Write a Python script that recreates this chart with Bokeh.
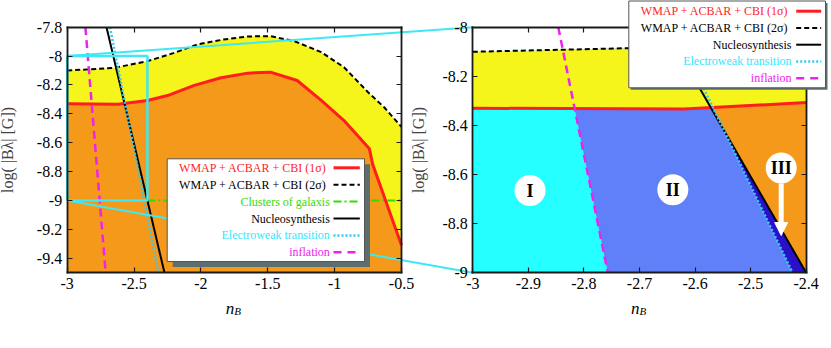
import numpy as np
from bokeh.plotting import figure
from bokeh.models import Range1d, LinearAxis, FixedTicker, Arrow, NormalHead, ColumnDataSource
from bokeh.core.properties import value
from bokeh.embed import file_html
from bokeh.resources import INLINE

# ---------------- data ----------------
sigma1_n = [-3.0, -2.62, -2.4, -2.25, -2.05, -1.85, -1.65, -1.48, -1.28, -1.1, -0.93, -0.74, -0.715, -0.5]
sigma1_logB = [-8.33, -8.333, -8.307, -8.273, -8.203, -8.15, -8.118, -8.111, -8.169, -8.307, -8.446, -8.642, -8.75, -9.31]
sigma2_n = [-3.0, -2.65, -2.4, -2.2, -2.03, -1.83, -1.65, -1.48, -1.3, -1.1, -0.93, -0.75, -0.63, -0.5]
sigma2_logB = [-8.10, -8.082, -8.035, -7.978, -7.92, -7.885, -7.864, -7.862, -7.897, -7.973, -8.077, -8.25, -8.354, -8.49]
nucleo_n = [-2.706, -2.2725]
nucleo_logB = [-7.8, -9.5]
ew_n = [-2.68, -2.318]
ew_logB = [-7.8, -9.5]
infl_n = [-2.864, -2.7125]
infl_logB = [-7.8, -9.5]
clusters_n = [-3.0, -0.5]
clusters_logB = [-9.0, -9.0]

left_xlim = [-3.0, -0.5]
left_ylim = [-9.5, -7.8]
right_xlim = [-3.0, -2.4]
right_ylim = [-9.0, -8.0]

left_xticks = [-3.0, -2.5, -2.0, -1.5, -1.0, -0.5]
left_xlabels = ["-3", "-2.5", "-2", "-1.5", "-1", "-0.5"]
left_yticks = [-7.8, -8.0, -8.2, -8.4, -8.6, -8.8, -9.0, -9.2, -9.4]
left_ylabels = ["-7.8", "-8", "-8.2", "-8.4", "-8.6", "-8.8", "-9", "-9.2", "-9.4"]
right_xticks = [-3.0, -2.9, -2.8, -2.7, -2.6, -2.5, -2.4]
right_xlabels = ["-3", "-2.9", "-2.8", "-2.7", "-2.6", "-2.5", "-2.4"]
right_yticks = [-8.0, -8.2, -8.4, -8.6, -8.8, -9.0]
right_ylabels = ["-8", "-8.2", "-8.4", "-8.6", "-8.8", "-9"]

region_names = ["I", "II", "III"]
region_n = [-2.897, -2.64, -2.445]
region_logB = [-8.665, -8.662, -8.573]
arrow_tip_logB = -8.848

legend_labels = ["WMAP + ACBAR + CBI  (1σ)", "WMAP + ACBAR + CBI  (2σ)", "Clusters of galaxis",
                 "Nucleosynthesis", "Electroweak transition", "inflation"]
y_title = "log( |Bλ| [G])"

# ---------------- styling ----------------
FONT = "Liberation Serif"
C_RED = "#ff1e1e"
C_YELLOW = "#f5f51c"
C_ORANGE = "#f5991a"
C_CYAN_FILL = "#26ffff"
C_BLUE = "#6080fa"
C_DARK = "#2a10c8"
C_CONN = "#3ee8f5"
C_EW = "#38c8f0"
C_MAG = "#ee22ee"
C_GREEN = "#33dd00"
C_SHADOW = "#5c6e6e"
C_AXIS = "#1a1a1a"

# canvas (page) size in px; the page template puts the figure at (0, 0)
W, H = 829, 346
LB = dict(x0=66.7, x1=401.0, y0=26.7, y1=272.3)
RB = dict(x0=472.3, x1=805.7, y0=26.7, y1=272.3)


def x_range_for(lim, box):
    k = (box["x1"] - box["x0"]) / (lim[1] - lim[0])
    return Range1d(start=lim[0] - box["x0"] / k, end=lim[1] + (W - box["x1"]) / k), k


def y_range_for(lim, box):
    k = (box["y1"] - box["y0"]) / (lim[1] - lim[0])
    return Range1d(start=lim[0] - (H - box["y1"]) / k, end=lim[1] + box["y0"] / k), k


Lx, kLx = x_range_for(left_xlim, LB)
Ly, kLy = y_range_for(left_ylim, LB)
Rx, kRx = x_range_for(right_xlim, RB)
Ry, kRy = y_range_for(right_ylim, RB)

p = figure(width=W, height=H, frame_width=W, frame_height=H,
           x_range=Range1d(0, W), y_range=Range1d(H, 0),
           x_axis_type=None, y_axis_type=None, toolbar_location=None,
           output_backend="svg", min_border=0, outline_line_color=None)
p.extra_x_ranges = {"Lx": Lx, "Rx": Rx}
p.extra_y_ranges = {"Ly": Ly, "Ry": Ry}
L = dict(x_range_name="Lx", y_range_name="Ly")
R = dict(x_range_name="Rx", y_range_name="Ry")


def add_axis(side, xr, yr, ticks, labels, bounds, loc, show, title=None, title_standoff=4):
    ax = LinearAxis(x_range_name=xr, y_range_name=yr, fixed_location=loc, bounds=tuple(bounds),
                    ticker=FixedTicker(ticks=list(ticks), minor_ticks=[]),
                    axis_line_color=C_AXIS, axis_line_width=1.8, axis_line_cap="square",
                    major_tick_line_color=C_AXIS, major_tick_line_width=1.2,
                    major_tick_in=5, major_tick_out=0, minor_tick_in=0, minor_tick_out=0,
                    major_label_text_font=FONT, major_label_text_font_size="16px",
                    major_label_text_color="black", major_label_standoff=5)
    if show:
        ax.major_label_overrides = {t: s for t, s in zip(ticks, labels)}
    else:
        ax.major_label_text_color = None
    if title:
        ax.axis_label = title
        ax.axis_label_text_font = FONT
        ax.axis_label_text_font_style = "normal"
        ax.axis_label_text_font_size = "16px"
        ax.axis_label_standoff = title_standoff
    p.add_layout(ax, side)


# ---------------- left panel ----------------
p.patch(sigma1_n + [left_xlim[1], left_xlim[0]], sigma1_logB + [left_ylim[0], left_ylim[0]],
        fill_color=C_ORANGE, line_color=None, **L)
p.patch(sigma2_n + sigma1_n[::-1], sigma2_logB + sigma1_logB[::-1],
        fill_color=C_YELLOW, line_color=None, **L)
p.line(clusters_n, clusters_logB, line_color=C_GREEN, line_width=2, line_dash="8 3 2 3", **L)
p.line(sigma1_n, sigma1_logB, line_color=C_RED, line_width=3, **L)
p.line(sigma2_n, sigma2_logB, line_color="black", line_width=2, line_dash="5 3", **L)
p.line(infl_n, infl_logB, line_color=C_MAG, line_width=2.5, line_dash="8 5", **L)
p.line(nucleo_n, nucleo_logB, line_color="black", line_width=2, **L)
p.line(ew_n, ew_logB, line_color=C_EW, line_width=2.5, line_dash="2 2", **L)


# ---------------- right panel (zoom) ----------------
def line_at(ns, ys, y):
    order = np.argsort(ys)
    return float(np.interp(y, np.asarray(ys)[order], np.asarray(ns)[order]))


def clip_curve(ns, ys, lo, hi):
    ns = np.asarray(ns, float)
    ys = np.asarray(ys, float)
    m = (ns >= lo - 1e-9) & (ns <= hi + 1e-9)
    xs, yv = list(ns[m]), list(ys[m])
    if xs[0] > lo:
        xs.insert(0, lo)
        yv.insert(0, float(np.interp(lo, ns, ys)))
    if xs[-1] < hi:
        xs.append(hi)
        yv.append(float(np.interp(hi, ns, ys)))
    return xs, yv


def intersect(n1, y1, n2, y2):
    b1 = (n1[1] - n1[0]) / (y1[1] - y1[0])
    a1 = n1[0] - b1 * y1[0]
    b2 = (n2[1] - n2[0]) / (y2[1] - y2[0])
    a2 = n2[0] - b2 * y2[0]
    y = (a2 - a1) / (b1 - b2)
    return a1 + b1 * y, y


x0r, x1r = right_xlim
ybot, ytop = right_ylim
nuc_t, nuc_b = line_at(nucleo_n, nucleo_logB, ytop), line_at(nucleo_n, nucleo_logB, ybot)
ew_t, ew_b = line_at(ew_n, ew_logB, ytop), line_at(ew_n, ew_logB, ybot)
inf_t, inf_b = line_at(infl_n, infl_logB, ytop), line_at(infl_n, infl_logB, ybot)
xi, yi = intersect(ew_n, ew_logB, nucleo_n, nucleo_logB)

p.patch([x0r, x1r, x1r, x0r], [ytop, ytop, ybot, ybot], fill_color=C_ORANGE, line_color=None, **R)
p.patch([x0r, nuc_t, nuc_b, x0r], [ytop, ytop, ybot, ybot], fill_color=C_DARK, line_color=None, **R)
bx = [x0r, min(nuc_t, ew_t)]
by = [ytop, ytop]
if ybot < yi < ytop:
    bx.append(xi)
    by.append(yi)
bx += [min(nuc_b, ew_b), x0r]
by += [ybot, ybot]
p.patch(bx, by, fill_color=C_BLUE, line_color=None, **R)
p.patch([x0r, inf_t, inf_b, x0r], [ytop, ytop, ybot, ybot], fill_color=C_CYAN_FILL, line_color=None, **R)

s1x, s1y = clip_curve(sigma1_n, sigma1_logB, x0r, x1r)
s2x, s2y = clip_curve(sigma2_n, sigma2_logB, x0r, x1r)
p.patch(s2x + s1x[::-1], s2y + s1y[::-1], fill_color=C_YELLOW, line_color=None, **R)
p.patch([x0r] + s2x + [x1r], [ytop] + s2y + [ytop], fill_color="white", line_color=None, **R)

p.line(s1x, s1y, line_color=C_RED, line_width=3, **R)
p.line(s2x, s2y, line_color="black", line_width=2, line_dash="5 3", **R)
p.line([inf_t, inf_b], [ytop, ybot], line_color=C_MAG, line_width=2.5, line_dash="8 5", **R)
p.line([nuc_t, nuc_b], [ytop, ybot], line_color="black", line_width=2, **R)
p.line([ew_t, ew_b], [ytop, ybot], line_color=C_EW, line_width=2.5, line_dash="2 2", **R)

# ---------------- zoom box and connectors (left-panel coordinates) ----------------
p.quad(left=[x0r], right=[x1r], top=[ytop], bottom=[ybot], fill_color=None,
       line_color=C_CONN, line_width=2.5, **L)
xR_inL = left_xlim[0] + (RB["x0"] - LB["x0"]) / kLx
yRt_inL = left_ylim[1] - (RB["y0"] - LB["y0"]) / kLy
yRb_inL = left_ylim[1] - (RB["y1"] - LB["y0"]) / kLy
p.line([x0r, xR_inL], [ytop, yRt_inL], line_color=C_CONN, line_width=2, **L)
p.line([x0r, xR_inL], [ybot, yRb_inL], line_color=C_CONN, line_width=2, **L)

# ---------------- axes ----------------
add_axis("left", "Lx", "Ly", left_yticks, left_ylabels, left_ylim, left_xlim[0], True, y_title, 18)
add_axis("right", "Lx", "Ly", left_yticks, left_ylabels, left_ylim, left_xlim[1], False)
add_axis("below", "Lx", "Ly", left_xticks, left_xlabels, left_xlim, left_ylim[0], True)
add_axis("above", "Lx", "Ly", left_xticks, left_xlabels, left_xlim, left_ylim[1], False)
add_axis("left", "Rx", "Ry", right_yticks, right_ylabels, right_ylim, right_xlim[0], True, y_title, 12)
add_axis("right", "Rx", "Ry", right_yticks, right_ylabels, right_ylim, right_xlim[1], False)
add_axis("below", "Rx", "Ry", right_xticks, right_xlabels, right_xlim, right_ylim[0], True)
add_axis("above", "Rx", "Ry", right_xticks, right_xlabels, right_xlim, right_ylim[1], False)

# x-axis titles n_B (italic n with subscript B)
for box in (LB, RB):
    cx = 0.5 * (box["x0"] + box["x1"])
    p.text(x=[cx], y=[box["y1"] + 36], text=["n"], text_align="right", text_baseline="alphabetic",
           text_font=value(FONT), text_font_style="italic", text_font_size="17px", text_color="black")
    p.text(x=[cx], y=[box["y1"] + 38.5], text=["B"], text_align="left", text_baseline="alphabetic",
           text_font=value(FONT), text_font_style="italic", text_font_size="11px", text_color="black")

# ---------------- region markers ----------------
p.scatter(region_n, region_logB, marker="circle", size=31, fill_color="white", line_color=None, **R)
p.text(x=region_n, y=region_logB, text=region_names, text_align="center", text_baseline="middle",
       text_font=value(FONT), text_font_style="bold", text_font_size="18px", text_color="black", **R)
p.add_layout(Arrow(x_start=region_n[2], y_start=region_logB[2] - 15.5 / kRy,
                   x_end=region_n[2], y_end=arrow_tip_logB,
                   line_color="white", line_width=5, x_range_name="Rx", y_range_name="Ry",
                   end=NormalHead(size=13, fill_color="white", line_color="white", line_width=1)))

# ---------------- legends (pixel coordinates of the canvas, drawn above the axes) ----------------
styles = [dict(line_color=C_RED, line_width=3),
          dict(line_color="black", line_width=2, line_dash="5 3"),
          dict(line_color=C_GREEN, line_width=2, line_dash="8 3 2 3"),
          dict(line_color="black", line_width=2),
          dict(line_color=C_EW, line_width=2.5, line_dash="2 2"),
          dict(line_color=C_MAG, line_width=2.5, line_dash="8 6")]
text_colors = [C_RED, "black", C_GREEN, "black", "#33e6ff", C_MAG]
TOP = dict(level="overlay")


def legend(entries, bx0, bx1, by0, by1, shadow, row0, step, text_right, s0, s1):
    p.quad(left=[bx0 + shadow], right=[bx1 + shadow], top=[by0 + shadow], bottom=[by1 + shadow],
           fill_color=C_SHADOW, line_color=None, **TOP)
    p.quad(left=[bx0], right=[bx1], top=[by0], bottom=[by1], fill_color="white",
           line_color="#555555", line_width=1, **TOP)
    ys = [row0 + i * step for i in range(len(entries))]
    src = ColumnDataSource(dict(x=[text_right] * len(entries), y=ys,
                                t=[legend_labels[i] for i in entries],
                                c=[text_colors[i] for i in entries]))
    p.text(x="x", y="y", text="t", text_color="c", source=src, text_align="right",
           text_baseline="middle", text_font=value(FONT), text_font_size="12px", **TOP)
    for yy, i in zip(ys, entries):
        p.line([s0, s1], [yy, yy], **styles[i], **TOP)


legend([0, 1, 2, 3, 4, 5], 166.7, 364.0, 158.3, 261.0, 5.5, 167.3, 16.9, 329.3, 333.0, 359.3)
legend([0, 1, 3, 4, 5], 628.3, 825.0, 0.5, 87.3, 2.0, 10.7, 16.75, 791.0, 795.7, 820.7)

open("out.html", "w").write(file_html(p, INLINE))
